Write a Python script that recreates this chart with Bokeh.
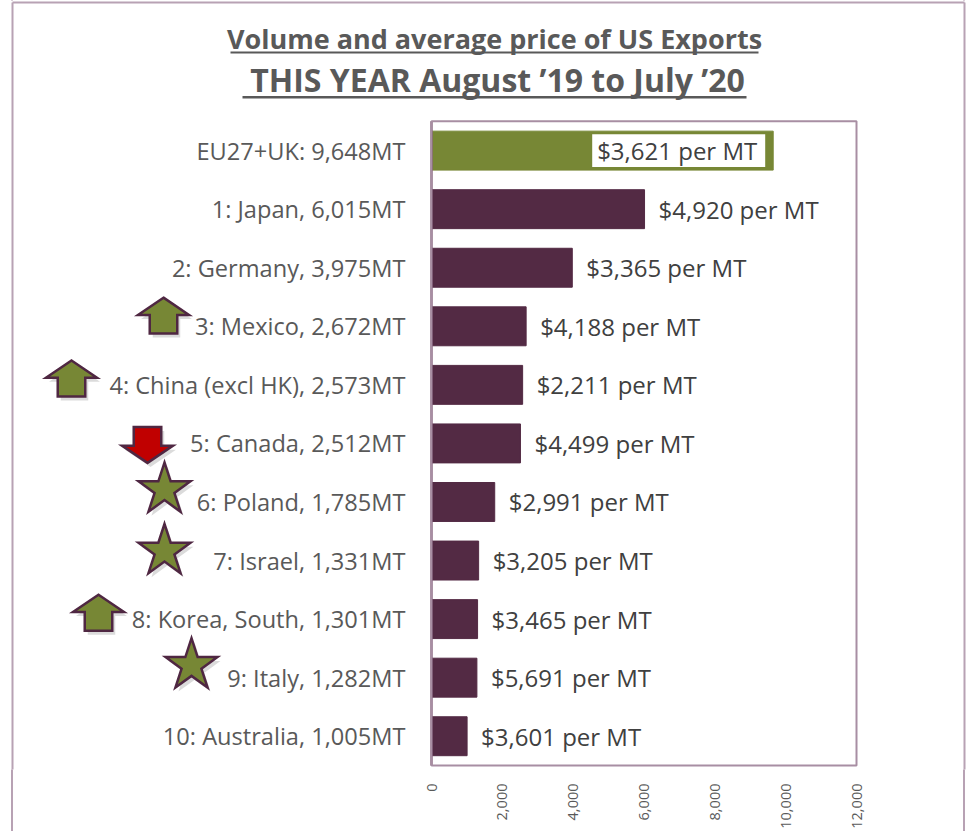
import math
from bokeh.plotting import figure
from bokeh.models import (ColumnDataSource, Range1d, FixedTicker,
                          NumeralTickFormatter, BoxAnnotation)
from bokeh.core.properties import value
from bokeh.embed import file_html
from bokeh.resources import INLINE

# ---------------- data ----------------
ranks = ["", "1", "2", "3", "4", "5", "6", "7", "8", "9", "10"]
countries = ["EU27+UK", "Japan", "Germany", "Mexico", "China (excl HK)", "Canada",
             "Poland", "Israel", "Korea, South", "Italy", "Australia"]
volumes_mt = [9648, 6015, 3975, 2672, 2573, 2512, 1785, 1331, 1301, 1282, 1005]
price_per_mt = [3621, 4920, 3365, 4188, 2211, 4499, 2991, 3205, 3465, 5691, 3601]
trend = ["", "", "", "up", "up", "down", "new", "new", "up", "new", ""]
x_ticks = [0, 2000, 4000, 6000, 8000, 10000, 12000]
title_1 = "Volume and average price of US Exports"
title_2 = "THIS YEAR August \u201919 to July \u201920"

# ---------------- layout / style ----------------
W, H = 966, 831
FB = 770                         # frame bottom (px); axis panel below
CL, CR, CT, CB = 431, 856, 121, 766   # plot area box (px)
XMAX = 12000
N = len(countries)
ROW = (CB - CT) / N
UPX = XMAX / (CR - CL)           # data units per pixel (x)
FONT = "Open Sans"
GREY = "#595959"
DARK = "#404040"
PURPLE = "#532a44"
GREEN = "#778735"
LILAC = "#a88ea3"
BORDER = "#b8a2b4"
EDGE = "#4f2742"

# icon placement (px): centre x, vertical shift from the row centre
icon_cx = [None, None, None, 163, 71, 147, 164, 164, 98, 191, None]
icon_dy = [0, 0, 0, -10.7, -6.4, 1.5, -9.7, -6.8, -6.4, -9.6, 0]


def X(px):
    return (px - CL) / (CR - CL) * XMAX


def Y(py):
    return (CB - py) / ROW


labels = []
for r, c, v in zip(ranks, countries, volumes_mt):
    labels.append(f"{r}: {c}, {v:,}MT" if r else f"{c}: {v:,}MT")
ptxt = [f"${p:,} per MT" for p in price_per_mt]
colors = [GREEN] + [PURPLE] * (N - 1)
ypos = [N - i - 0.5 for i in range(N)]

src = ColumnDataSource(dict(y=ypos, label=labels, vol=volumes_mt, ptxt=ptxt, color=colors))
src_out = ColumnDataSource(dict(y=ypos[1:], vol=volumes_mt[1:], ptxt=ptxt[1:]))
src_in = ColumnDataSource(dict(y=ypos[:1], vol=volumes_mt[:1], ptxt=ptxt[:1]))

p = figure(width=W, height=H, output_backend="svg", toolbar_location=None,
           x_range=Range1d(X(0), X(W)), y_range=Range1d(Y(FB), Y(0)),
           min_border_left=0, min_border_top=0, min_border_right=0,
           min_border_bottom=H - FB)
p.background_fill_color = "white"
p.border_fill_color = None
p.outline_line_color = None
p.xgrid.visible = False
p.ygrid.visible = False
p.yaxis.visible = False
# outer chart border continued through the axis strip (canvas is transparent there)
p.styles = {"background": (
    f"linear-gradient(to right, transparent 11px, {BORDER} 11px, {BORDER} 13px, transparent 13px),"
    f"linear-gradient(to right, transparent 963px, {BORDER} 963px, {BORDER} 965px, transparent 965px)")}

# plot-area box
p.add_layout(BoxAnnotation(left=0, right=XMAX, bottom=0, top=N, fill_color=None,
                           line_color=LILAC, line_width=2, line_alpha=1))

p.hbar(y="y", left=0, right="vol", height=0.665, color="color", source=src)
p.segment(x0=[0], y0=[0], x1=[0], y1=[N], line_color="#5e3150", line_width=2)

# category labels
p.text(x=X(405), y="y", text="label", source=src, text_align="right",
       text_baseline="middle", text_color=GREY, text_font=value(FONT),
       text_font_size="23.6px")

# price labels
p.text(x="vol", y="y", text="ptxt", source=src_out, x_offset=14,
       text_align="left", text_baseline="middle", text_color=DARK,
       text_font=value(FONT), text_font_size="24px")
# white label box inside the leading (EU) bar
half_box = 16.5 / ROW
p.quad(left=[v - 181 * UPX for v in volumes_mt[:1]], right=[v - 8 * UPX for v in volumes_mt[:1]],
       bottom=[y - half_box for y in ypos[:1]], top=[y + half_box for y in ypos[:1]],
       fill_color="white", line_color=None)
p.text(x="vol", y="y", text="ptxt", source=src_in, x_offset=-16,
       text_align="right", text_baseline="middle", text_color=DARK,
       text_font=value(FONT), text_font_size="24px")

xa = p.xaxis[0]
xa.ticker = FixedTicker(ticks=x_ticks)
xa.formatter = NumeralTickFormatter(format="0,0")
xa.major_label_orientation = math.pi / 2
xa.axis_line_color = None
xa.major_tick_line_color = None
xa.minor_tick_line_color = None
xa.major_label_standoff = 8
xa.major_label_text_font = FONT
xa.major_label_text_font_size = "14.5px"
xa.major_label_text_color = GREY

# outer chart border
p.segment(x0=[X(12), X(12), X(964)], y0=[Y(2), Y(2), Y(2)],
          x1=[X(964), X(12), X(964)], y1=[Y(2), Y(FB + 5), Y(FB + 5)],
          line_color=BORDER, line_width=2)

# titles (vertical middle of the capitals)
p.text(x=[X(494)], y=[Y(38)], text=[title_1], text_align="center",
       text_baseline="middle", text_font=value(FONT), text_font_style="bold",
       text_font_size="27px", text_color=GREY)
p.text(x=[X(497)], y=[Y(79.5)], text=[title_2], text_align="center",
       text_baseline="middle", text_font=value(FONT), text_font_style="bold",
       text_font_size="32px", text_color=GREY)
p.segment(x0=[X(230), X(242)], y0=[Y(52), Y(97)], x1=[X(758), X(746)], y1=[Y(52), Y(97)],
          line_color=GREY, line_width=[2, 2.5])


def arrow_pts(cx, cy, w=51, h=36, down=False):
    sw = 0.27 * w
    hb = 0.48 * h
    pts = [(0, -h / 2), (w / 2, -h / 2 + hb), (sw, -h / 2 + hb), (sw, h / 2),
           (-sw, h / 2), (-sw, -h / 2 + hb), (-w / 2, -h / 2 + hb)]
    s = -1 if down else 1
    return [(cx + a, cy + s * b) for a, b in pts]


def star_pts(cx, cy, R=27.3):
    r = R * 0.382
    cc = cy - R * (1 - math.cos(math.radians(36))) / 2
    pts = []
    for k in range(10):
        ang = math.radians(-90 + 36 * k)
        rad = R if k % 2 == 0 else r
        pts.append((cx + rad * math.cos(ang), cc + rad * math.sin(ang)))
    return pts


sh_xs, sh_ys, ic_xs, ic_ys, ic_fill = [], [], [], [], []
for i, kind in enumerate(trend):
    if not kind:
        continue
    cy = CT + (i + 0.5) * ROW + icon_dy[i]
    cx = icon_cx[i]
    if kind == "new":
        pts = star_pts(cx, cy)
        fill = GREEN
    else:
        pts = arrow_pts(cx, cy, down=(kind == "down"))
        fill = "#c00000" if kind == "down" else GREEN
    sh_xs.append([X(a + 3) for a, b in pts])
    sh_ys.append([Y(b + 4) for a, b in pts])
    ic_xs.append([X(a) for a, b in pts])
    ic_ys.append([Y(b) for a, b in pts])
    ic_fill.append(fill)

p.patches(xs=sh_xs, ys=sh_ys, fill_color="#000000", fill_alpha=0.14, line_color=None)
p.patches(xs=ic_xs, ys=ic_ys, fill_color=ic_fill, line_color=EDGE, line_width=2.5,
          line_join="miter")

open("out.html", "w").write(file_html(p, INLINE))
